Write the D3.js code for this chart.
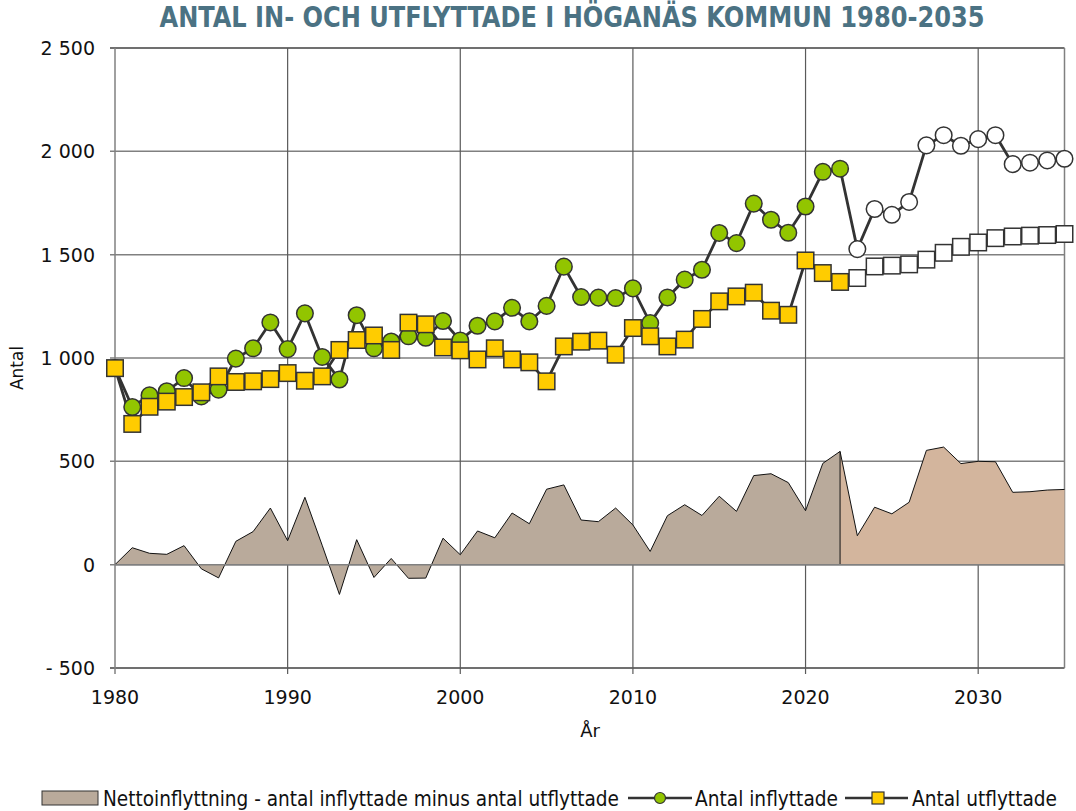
<!DOCTYPE html>
<html>
<head>
<meta charset="utf-8">
<script src="https://cdn.jsdelivr.net/npm/d3@7"></script>
<style>
  html, body { margin: 0; padding: 0; background: #fff; }
  svg { display: block; }
</style>
</head>
<body>
<svg id="chart" width="1076" height="811"></svg>
<script>
// ---- Data ----
const years = d3.range(1980, 2036);
const lastObservedYear = 2022;

const inflyttade = [
  951, 763, 819, 839, 903, 814, 847, 997, 1047, 1172,
  1043, 1216, 1005, 896, 1207, 1047, 1080, 1105, 1098, 1179,
  1085, 1156, 1177, 1243, 1177, 1252, 1442, 1295, 1292, 1290,
  1337, 1169, 1293, 1379, 1427, 1605, 1556, 1747, 1669, 1606,
  1733, 1901, 1916, 1527, 1721, 1693, 1755, 2029, 2078, 2027,
  2059, 2078, 1938, 1945, 1956, 1964
];

const utflyttade = [
  951, 681, 764, 789, 811, 834, 911, 884, 887, 898,
  927, 890, 911, 1039, 1087, 1109, 1039, 1171, 1163, 1051,
  1037, 993, 1047, 993, 979, 887, 1056, 1079, 1084, 1016,
  1145, 1105, 1056, 1089, 1189, 1274, 1298, 1316, 1229, 1209,
  1472, 1411, 1368, 1387, 1443, 1447, 1453, 1476, 1509, 1538,
  1559, 1580, 1588, 1592, 1595, 1600
];

const netto = [
  0, 82, 55, 50, 92, -20, -64, 113, 160, 274,
  116, 326, 94, -144, 121, -62, 30, -66, -65, 128,
  48, 163, 130, 250, 198, 365, 386, 216, 208, 274,
  192, 64, 237, 290, 238, 331, 258, 431, 440, 397,
  261, 490, 548, 140, 278, 246, 302, 553, 569, 489,
  500, 498, 350, 353, 361, 364
];

const yTicks = [-500, 0, 500, 1000, 1500, 2000, 2500];
const xTicks = [1980, 1990, 2000, 2010, 2020, 2030];

const titleText = "ANTAL IN- OCH UTFLYTTADE I HÖGANÄS KOMMUN 1980-2035";
const xTitle = "År";
const yTitle = "Antal";
const legendLabels = [
  "Nettoinflyttning - antal inflyttade minus antal utflyttade",
  "Antal inflyttade",
  "Antal utflyttade"
];

// ---- Layout ----
const svg = d3.select("#chart");
const plot = { left: 115, right: 1064.5, top: 48, bottom: 668 };

const x = d3.scaleLinear().domain([1980, 2035]).range([plot.left, plot.right]);
const y = d3.scaleLinear().domain([-500, 2500]).range([plot.bottom, plot.top]);

const fmt = v => {
  const s = d3.format(",")(Math.abs(v)).replace(/,/g, " ");
  return v < 0 ? "- " + s : s;
};

const tickFont = "'DejaVu Sans', sans-serif";
const narrowFont = "'Liberation Sans Narrow', 'DejaVu Sans Condensed', sans-serif";

const colors = {
  grid: "#808080",
  vgrid: "#5a5a5a",
  areaHist: "#b9aa9b",
  areaProg: "#d3b59d",
  line: "#333333",
  green: "#92c500",
  yellow: "#ffcc00",
  title: "#4b7283"
};

// ---- Title ----
svg.append("text")
  .attr("x", 572).attr("y", 27)
  .attr("text-anchor", "middle")
  .attr("font-family", narrowFont)
  .attr("font-weight", "bold")
  .attr("font-size", 28)
  .attr("fill", colors.title)
  .attr("textLength", 825)
  .attr("lengthAdjust", "spacingAndGlyphs")
  .text(titleText);

// ---- Grid ----
const grid = svg.append("g");
grid.selectAll(".hg").data(yTicks).join("line")
  .attr("x1", plot.left - 5).attr("x2", plot.right)
  .attr("y1", d => y(d)).attr("y2", d => y(d))
  .attr("stroke", d => (d === -500 || d === 2500) ? "#404040" : colors.grid)
  .attr("stroke-width", 1.5);

grid.selectAll(".vg").data(xTicks).join("line")
  .attr("x1", d => x(d)).attr("x2", d => x(d))
  .attr("y1", plot.top).attr("y2", plot.bottom + 6)
  .attr("stroke", d => d === 1980 ? colors.grid : colors.vgrid)
  .attr("stroke-width", d => d === 1980 ? 1.5 : 1.2);

// right border
grid.append("line")
  .attr("x1", plot.right).attr("x2", plot.right)
  .attr("y1", plot.top).attr("y2", plot.bottom)
  .attr("stroke", colors.grid).attr("stroke-width", 1.5);

// ---- Net migration area ----
const rows = years.map((yr, i) => ({ yr, inn: inflyttade[i], ut: utflyttade[i], net: netto[i] }));
const hist = rows.filter(d => d.yr <= lastObservedYear);
const prog = rows.filter(d => d.yr >= lastObservedYear);

const area = d3.area().x(d => x(d.yr)).y0(y(0)).y1(d => y(d.net));
const topLine = d3.line().x(d => x(d.yr)).y(d => y(d.net));

svg.append("path").datum(hist).attr("d", area).attr("fill", colors.areaHist);
svg.append("path").datum(prog).attr("d", area).attr("fill", colors.areaProg);
svg.append("path").datum(hist).attr("d", topLine).attr("fill", "none").attr("stroke", "#111").attr("stroke-width", 1);
svg.append("path").datum(prog).attr("d", topLine).attr("fill", "none").attr("stroke", "#111").attr("stroke-width", 1);
svg.append("line")
  .attr("x1", x(lastObservedYear)).attr("x2", x(lastObservedYear))
  .attr("y1", y(0)).attr("y2", y(prog[0].net))
  .attr("stroke", "#111").attr("stroke-width", 1);

// zero line on top
svg.append("line")
  .attr("x1", plot.left).attr("x2", plot.right)
  .attr("y1", y(0)).attr("y2", y(0))
  .attr("stroke", colors.grid).attr("stroke-width", 1.5);

// ---- Lines ----
const lineIn = d3.line().x(d => x(d.yr)).y(d => y(d.inn));
const lineUt = d3.line().x(d => x(d.yr)).y(d => y(d.ut));

svg.append("path").datum(rows).attr("d", lineIn)
  .attr("fill", "none").attr("stroke", colors.line).attr("stroke-width", 2.8);
svg.append("path").datum(rows).attr("d", lineUt)
  .attr("fill", "none").attr("stroke", colors.line).attr("stroke-width", 2.8);

// markers: squares (utflyttade) then circles? Draw circles first so squares on top at 1980
const sq = 16.5;
svg.append("g").selectAll("circle").data(rows).join("circle")
  .attr("cx", d => x(d.yr)).attr("cy", d => y(d.inn)).attr("r", 8.3)
  .attr("fill", d => d.yr <= lastObservedYear ? colors.green : "#fff")
  .attr("stroke", colors.line).attr("stroke-width", 1.5);

svg.append("g").selectAll("rect").data(rows).join("rect")
  .attr("x", d => x(d.yr) - sq / 2).attr("y", d => y(d.ut) - sq / 2)
  .attr("width", sq).attr("height", sq)
  .attr("fill", d => d.yr <= lastObservedYear ? colors.yellow : "#fff")
  .attr("stroke", colors.line).attr("stroke-width", 1.5);

// ---- Axis labels ----
svg.append("g").selectAll("text").data(yTicks).join("text")
  .attr("x", 95).attr("y", d => y(d))
  .attr("dy", "0.36em")
  .attr("text-anchor", "end")
  .attr("font-family", tickFont).attr("font-size", 19).attr("fill", "#111")
  .text(fmt);

svg.append("g").selectAll("text").data(xTicks).join("text")
  .attr("x", d => x(d)).attr("y", 704)
  .attr("text-anchor", "middle")
  .attr("font-family", tickFont).attr("font-size", 19).attr("fill", "#111")
  .text(d => d);

svg.append("text")
  .attr("x", 590).attr("y", 737)
  .attr("text-anchor", "middle")
  .attr("font-family", tickFont).attr("font-size", 18).attr("fill", "#111")
  .text(xTitle);

svg.append("text")
  .attr("transform", "translate(23,368) rotate(-90)")
  .attr("text-anchor", "middle")
  .attr("font-family", tickFont).attr("font-size", 17).attr("fill", "#111")
  .text(yTitle);

// ---- Legend ----
const leg = svg.append("g").attr("font-family", narrowFont).attr("font-size", 21).attr("fill", "#111");
leg.append("rect").attr("x", 42).attr("y", 791).attr("width", 56).attr("height", 14)
  .attr("fill", colors.areaHist).attr("stroke", "#333").attr("stroke-width", 1);
leg.append("text").attr("x", 103).attr("y", 806).attr("textLength", 516).attr("lengthAdjust", "spacingAndGlyphs")
  .text(legendLabels[0]);

leg.append("line").attr("x1", 628).attr("x2", 692).attr("y1", 798).attr("y2", 798)
  .attr("stroke", colors.line).attr("stroke-width", 2.5);
leg.append("circle").attr("cx", 660).attr("cy", 798).attr("r", 5.5)
  .attr("fill", colors.green).attr("stroke", colors.line).attr("stroke-width", 1.2);
leg.append("text").attr("x", 695).attr("y", 806).attr("textLength", 143).attr("lengthAdjust", "spacingAndGlyphs")
  .text(legendLabels[1]);

leg.append("line").attr("x1", 845).attr("x2", 908).attr("y1", 798).attr("y2", 798)
  .attr("stroke", colors.line).attr("stroke-width", 2.5);
leg.append("rect").attr("x", 872).attr("y", 792).attr("width", 12).attr("height", 12)
  .attr("fill", colors.yellow).attr("stroke", colors.line).attr("stroke-width", 1.2);
leg.append("text").attr("x", 912).attr("y", 806).attr("textLength", 145).attr("lengthAdjust", "spacingAndGlyphs")
  .text(legendLabels[2]);
</script>
</body>
</html>
